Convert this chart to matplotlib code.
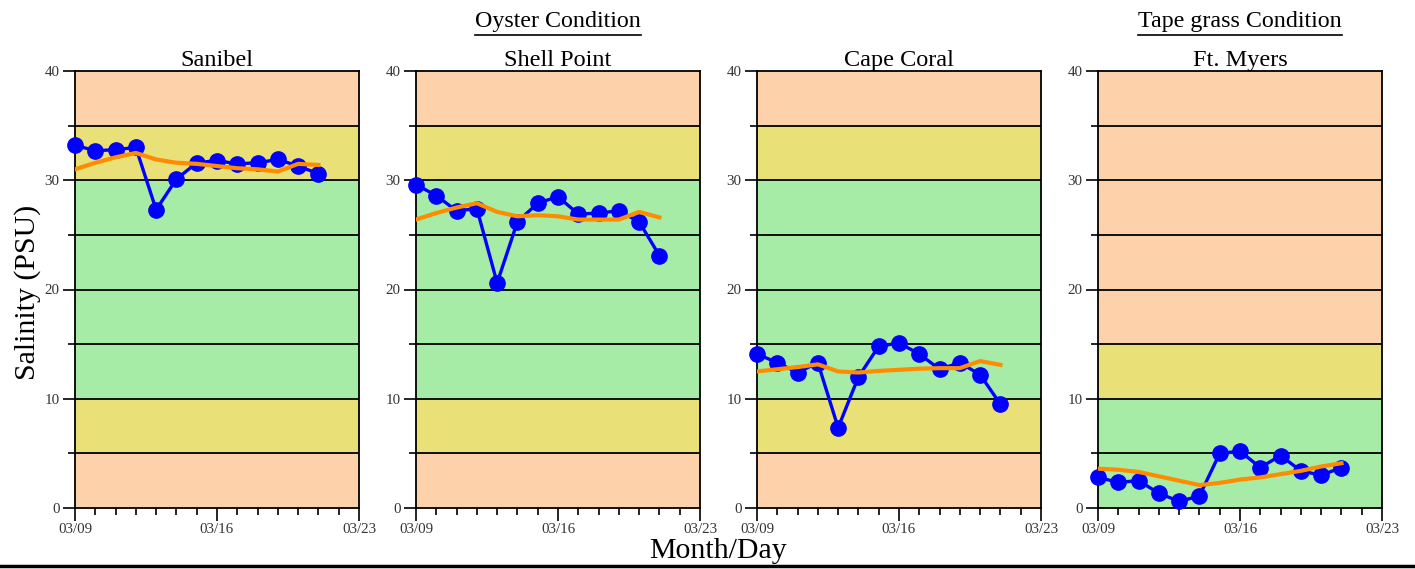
import numpy as np
import matplotlib
matplotlib.use('Agg')
import matplotlib.pyplot as plt
from matplotlib.ticker import MultipleLocator, FixedLocator

plt.rcParams['font.family'] = ['Liberation Serif', 'DejaVu Serif']

# days since 03/09
days = list(range(13))
tick_days = [0, 7, 14]
tick_labels = ['03/09', '03/16', '03/23']

stations = ['Sanibel', 'Shell Point', 'Cape Coral', 'Ft. Myers']

sanibel = [33.2, 32.7, 32.8, 33.0, 27.3, 30.1, 31.6, 31.8, 31.5, 31.6, 31.9, 31.3, 30.6]
sanibel_avg = [31.0, 31.6, 32.1, 32.5, 31.9, 31.6, 31.5, 31.3, 31.1, 31.0, 30.8, 31.5, 31.4]

shell = [29.6, 28.6, 27.2, 27.4, 20.6, 26.2, 27.9, 28.5, 26.9, 27.0, 27.2, 26.2, 23.1]
shell_avg = [26.4, 27.0, 27.5, 27.9, 27.1, 26.7, 26.8, 26.7, 26.4, 26.4, 26.4, 27.1, 26.6]

cape = [14.1, 13.3, 12.4, 13.3, 7.35, 12.0, 14.8, 15.1, 14.1, 12.7, 13.3, 12.2, 9.5]
cape_avg = [12.5, 12.7, 12.9, 13.15, 12.5, 12.4, 12.55, 12.65, 12.75, 12.8, 12.8, 13.45, 13.1]

myers = [2.8, 2.35, 2.5, 1.35, 0.6, 1.1, 5.0, 5.2, 3.7, 4.8, 3.4, 3.0, 3.7]
myers_avg = [3.6, 3.5, 3.3, 2.9, 2.5, 2.1, 2.3, 2.6, 2.8, 3.1, 3.4, 3.8, 4.1]

blue_series = [sanibel, shell, cape, myers]
avg_series = [sanibel_avg, shell_avg, cape_avg, myers_avg]

peach = '#fdd1a9'
yellow = '#e9e077'
green = '#a7eca6'
oyster_bands = [(0, 5, peach), (5, 10, yellow), (10, 30, green), (30, 35, yellow), (35, 40, peach)]
tape_bands = [(0, 10, green), (10, 15, yellow), (15, 40, peach)]
bands_list = [oyster_bands, oyster_bands, oyster_bands, tape_bands]

W, H = 1415, 569
fig = plt.figure(figsize=(W / 100, H / 100), dpi=100)

lefts = [75, 416, 757, 1098]
ax_w, ax_top, ax_bot = 284, 71, 508

for i in range(4):
    ax = fig.add_axes([lefts[i] / W, 1 - ax_bot / H, ax_w / W, (ax_bot - ax_top) / H])
    for lo, hi, c in bands_list[i]:
        ax.axhspan(lo, hi, color=c, lw=0, zorder=0)
    for y in range(5, 40, 5):
        ax.axhline(y, color='black', lw=1.3, zorder=1)
    ax.plot(days, blue_series[i], color='#0000ff', lw=2.4, marker='o', ms=11, zorder=3, clip_on=False)
    ax.plot(days, avg_series[i], color='#ff8c00', lw=3, zorder=4)
    ax.set_xlim(0, 14)
    ax.set_ylim(0, 40)
    ax.xaxis.set_major_locator(FixedLocator(tick_days))
    ax.set_xticklabels(tick_labels)
    ax.xaxis.set_minor_locator(MultipleLocator(1))
    ax.yaxis.set_major_locator(MultipleLocator(10))
    ax.yaxis.set_minor_locator(MultipleLocator(5))
    ax.tick_params(which='major', direction='out', length=9, width=1.2, labelsize=10.8, pad=2,
                   labelcolor='#333333')
    ax.tick_params(which='minor', direction='out', length=5, width=1.2)
    for s in ax.spines.values():
        s.set_linewidth(1.3)
    ax.set_title(stations[i], fontsize=17.5, pad=1)

# group headers, underlined
headers = [('Oyster Condition', 558), ('Tape grass Condition', 1240)]
for txt, xc in headers:
    t = fig.text(xc / W, 1 - 21 / H, txt, ha='center', va='center', fontsize=17.3)
    fig.canvas.draw()
    bb = t.get_window_extent()
    fig.add_artist(plt.Line2D([bb.x0 / W, bb.x1 / W], [1 - 35 / H, 1 - 35 / H], color='black', lw=1.2))

fig.text(718 / W, 1 - 551 / H, 'Month/Day', ha='center', va='center', fontsize=21.5)
fig.text(28 / W, 1 - 292 / H, 'Salinity (PSU)', ha='center', va='center', rotation=90, fontsize=21.5)
fig.add_artist(plt.Line2D([0, 1], [1 - 566 / H, 1 - 566 / H], color='black', lw=2.5))

fig.savefig('out.png', dpi=100)
